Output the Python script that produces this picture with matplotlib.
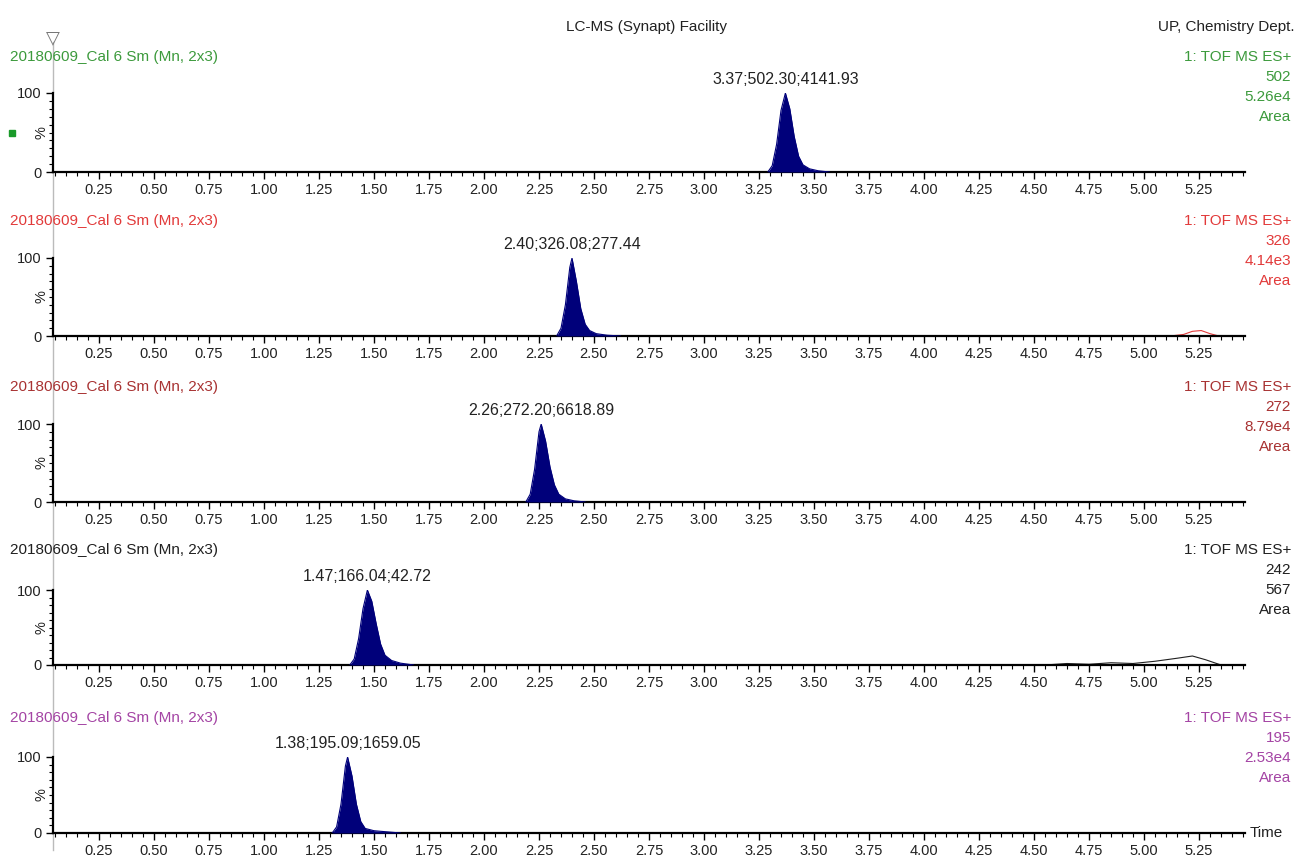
import numpy as np
import matplotlib
matplotlib.use("Agg")
import matplotlib.pyplot as plt
from matplotlib.ticker import MultipleLocator, FixedLocator

plt.rcParams['font.family'] = ['Liberation Sans', 'DejaVu Sans']

# one entry per trace (top to bottom)
titles = ["20180609_Cal 6 Sm (Mn, 2x3)"] * 5
colors = ["#3c9a3c", "#e23a3a", "#a83232", "#202020", "#a444a4"]
masses = ["502", "326", "272", "242", "195"]
heights = ["5.26e4", "4.14e3", "8.79e4", "567", "2.53e4"]
peak_labels = ["3.37;502.30;4141.93", "2.40;326.08;277.44", "2.26;272.20;6618.89",
               "1.47;166.04;42.72", "1.38;195.09;1659.05"]
peak_rt = [3.37, 2.40, 2.26, 1.47, 1.38]

# peak profiles (time, % intensity)
t1 = [3.29, 3.31, 3.33, 3.35, 3.37, 3.39, 3.41, 3.43, 3.45, 3.48, 3.52, 3.57]
y1 = [0, 8, 35, 78, 100, 80, 45, 20, 9, 4, 1.5, 0]
t2 = [2.33, 2.35, 2.37, 2.39, 2.40, 2.42, 2.44, 2.46, 2.48, 2.51, 2.56, 2.62]
y2 = [0, 10, 40, 88, 100, 70, 35, 15, 7, 3, 1, 0]
t3 = [2.19, 2.21, 2.23, 2.25, 2.26, 2.28, 2.30, 2.32, 2.34, 2.37, 2.41, 2.46]
y3 = [0, 10, 42, 90, 100, 78, 45, 22, 10, 4, 1.5, 0]
t4 = [1.39, 1.41, 1.43, 1.45, 1.47, 1.49, 1.51, 1.53, 1.55, 1.58, 1.62, 1.68]
y4 = [0, 8, 35, 75, 100, 85, 55, 28, 13, 6, 2.5, 0]
t5 = [1.31, 1.33, 1.35, 1.37, 1.38, 1.40, 1.42, 1.44, 1.46, 1.50, 1.56, 1.62]
y5 = [0, 8, 38, 88, 100, 75, 38, 15, 6, 3, 1.5, 0]
peaks = [(t1, y1), (t2, y2), (t3, y3), (t4, y4), (t5, y5)]

# small unfilled bumps near the end of the run
bump2_t = [5.12, 5.18, 5.22, 5.26, 5.30, 5.34]
bump2_y = [0, 2, 6, 7, 3, 0]
bump4_t = [4.55, 4.65, 4.75, 4.85, 4.95, 5.05, 5.15, 5.22, 5.28, 5.35]
bump4_y = [0, 2, 1, 3, 2, 5, 9, 12, 7, 0]
bumps = {1: (bump2_t, bump2_y), 3: (bump4_t, bump4_y)}

t_start, t_end = 0.041, 5.459

W, H = 1296, 858
fig = plt.figure(figsize=(W / 100, H / 100), dpi=100)

base_px = [172, 336, 502, 665, 833]
top_px = [93, 258, 424, 590, 757]
left_px, right_px = 53, 1245

for i in range(5):
    b = (H - base_px[i]) / H
    h = (base_px[i] - top_px[i]) / H
    ax = fig.add_axes([left_px / W, b, (right_px - left_px) / W, h])
    col = colors[i]

    # baseline trace
    ax.plot([t_start, t_end], [0, 0], color=col, lw=1.2, zorder=2)
    t, y = peaks[i]
    ax.fill_between(t, y, 0, color="#00007a", lw=0, zorder=3)
    ax.plot(t, y, color="#00007a", lw=0.8, zorder=3)
    if i in bumps:
        bt, by = bumps[i]
        ax.plot(bt, by, color=col, lw=0.8, zorder=2)

    ax.annotate(peak_labels[i], (peak_rt[i], 100), xytext=(0, 4),
                textcoords="offset points", ha="center", va="bottom",
                fontsize=11.5, color="#222222", annotation_clip=False)

    ax.set_xlim(t_start, t_end)
    ax.set_ylim(0, 100)
    for s in ["top", "right"]:
        ax.spines[s].set_visible(False)
    ax.spines["bottom"].set_linewidth(1.6)
    ax.spines["left"].set_linewidth(1.6)
    ax.xaxis.set_major_locator(FixedLocator(np.arange(0.25, 5.3, 0.25)))
    ax.xaxis.set_minor_locator(MultipleLocator(0.05))
    ax.xaxis.set_major_formatter(matplotlib.ticker.FormatStrFormatter("%.2f"))
    ax.set_yticks([0, 100])
    ax.yaxis.set_minor_locator(MultipleLocator(10))
    ax.tick_params(axis="both", which="major", length=5, width=1, labelsize=10.5,
                   labelcolor="#222222", direction="out", pad=3)
    ax.tick_params(axis="both", which="minor", length=3, width=0.8, direction="out")
    ax.set_ylabel("%", fontsize=10.5, color="#222222")
    ax.yaxis.set_label_coords(-0.004, 0.5)

    # panel header and right-hand info
    ytitle = 1 - (base_px[i] - 115) / H
    fig.text(10 / W, ytitle, titles[i], color=col, fontsize=11, va="center", ha="left")
    info = ["1: TOF MS ES+", masses[i], heights[i], "Area"]
    for k, s in enumerate(info):
        fig.text(1291 / W, ytitle - k * 20 / H, s, color=col, fontsize=11,
                 va="center", ha="right")

fig.text(647 / W, 1 - 27 / H, "LC-MS (Synapt) Facility", fontsize=11,
         ha="center", va="center", color="#222222")
fig.text(1294 / W, 1 - 27 / H, "UP, Chemistry Dept.", fontsize=11,
         ha="right", va="center", color="#222222")
fig.text(1250 / W, 1 - 833 / H, "Time", fontsize=11, ha="left", va="center",
         color="#222222")

# cursor marker and line
fig.add_artist(plt.Line2D([53 / W, 53 / W], [1 - 42 / H, 1 - 850 / H],
                          color="#bbbbbb", lw=1, zorder=0))
fig.text(53 / W, 1 - 38 / H, "\u25bd", fontsize=13, ha="center", va="center",
         color="#777777", family="DejaVu Sans")
fig.patches.append(plt.Rectangle((9 / W, 1 - 136 / H), 6 / W, 6 / H,
                                 transform=fig.transFigure, color="#1a9a2a"))

fig.savefig("out.png", dpi=100)
